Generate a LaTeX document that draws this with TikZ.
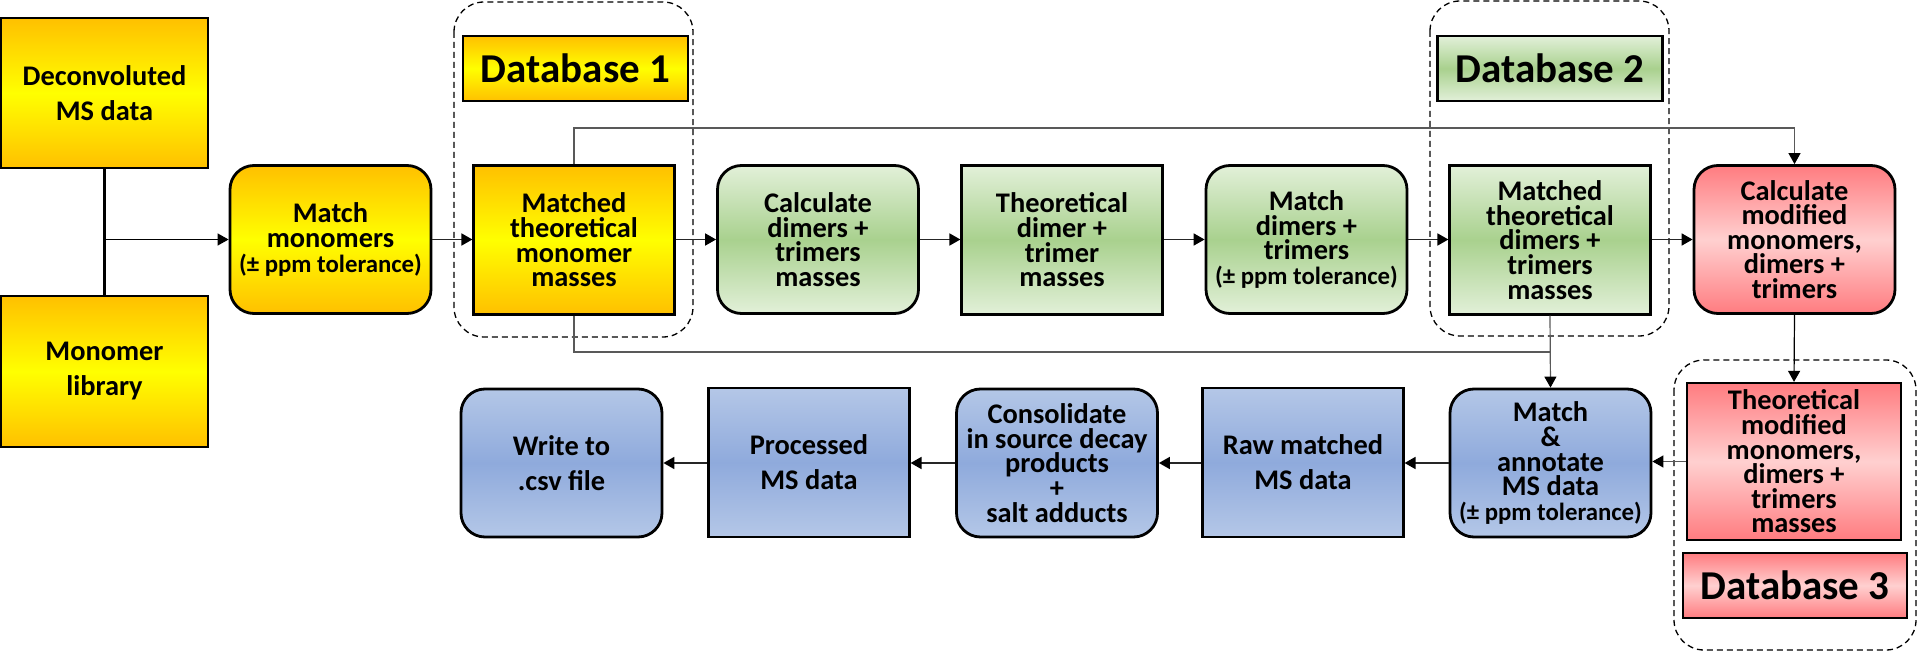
\documentclass[tikz,border=0pt]{standalone}
\usepackage{fontspec}
\setmainfont{Carlito}
\usetikzlibrary{arrows.meta}
\definecolor{yA}{HTML}{FFC000}
\definecolor{yB}{HTML}{FFFF00}
\definecolor{gA}{HTML}{E2F0D9}
\definecolor{gB}{HTML}{A9D18E}
\definecolor{rA}{HTML}{FF7C80}
\definecolor{rB}{HTML}{FFD0D0}
\definecolor{bA}{HTML}{B4C7E7}
\definecolor{bB}{HTML}{8FAADC}
\newcommand\boxfont{\fontsize{14.2pt}{12.3pt}\selectfont\bfseries\lineskiplimit=-20pt\relax}
\newcommand\twofont{\fontsize{14.2pt}{17.5pt}\selectfont\bfseries\lineskiplimit=-20pt\relax}
\newcommand\tolfont{\fontsize{12.4pt}{12.3pt}\selectfont\bfseries}
\newcommand\dbfont{\fontsize{20.5pt}{24pt}\selectfont\bfseries}
\tikzset{
  base/.style={draw=black, inner sep=0pt, align=center, font=\boxfont},
  sq/.style={base, line width=1.1pt, minimum width=100.5pt, minimum height=74.5pt},
  rd/.style={base, line width=1.4pt, rounded corners=12pt, minimum width=100.5pt, minimum height=74pt},
  yel/.style={top color=yA, bottom color=yA, middle color=yB},
  grn/.style={top color=gA, bottom color=gA, middle color=gB},
  red/.style={top color=rA, bottom color=rA, middle color=rB},
  blu/.style={top color=bA, bottom color=bA, middle color=bB},
  dbbox/.style={sq, minimum width=112.5pt, minimum height=32.5pt, font=\dbfont},
  dframe/.style={draw=black, line width=0.65pt, dash pattern=on 3pt off 2pt, rounded corners=15pt},
  arr/.style={draw=black!85, line width=0.9pt, -{Triangle[length=5.5pt,width=6pt,color=black]}},
  thinarr/.style={draw=black, line width=0.6pt, -{Triangle[length=5.5pt,width=6pt,color=black]}},
  gline/.style={draw=black!65, line width=0.6pt},
  garr/.style={gline, -{Triangle[length=5.5pt,width=6pt,color=black]}},
}
\begin{document}
\begin{tikzpicture}[x=0.5pt, y=-0.5pt]
\useasboundingbox (0,0) rectangle (1918,652);

% dashed database frames
\draw[dframe] (454,2) rectangle (693,337);
\draw[dframe] (1430,1) rectangle (1669,336);
\draw[dframe] (1674,360) rectangle (1916,650);

% left column
\node[sq, yel, minimum width=103.5pt, minimum height=75pt, font=\twofont] (decon) at (104.5,93) {Deconvoluted\\MS data};
\node[sq, yel, minimum width=103.5pt, minimum height=75.5pt, font=\twofont] (monolib) at (104.5,371.5) {Monomer\\library};

% database labels
\node[dbbox, yel] (db1) at (575.5,68.5) {Database 1};
\node[dbbox, grn] (db2) at (1550,68.5) {Database 2};
\node[dbbox, red, minimum width=112pt] (db3) at (1795,585.5) {Database 3};

% row 1
\node[rd, yel] (match1) at (330.5,239.5) {Match\\monomers\\{\tolfont(± ppm tolerance)}};
\node[sq, yel] (matched1) at (574,240) {Matched\\theoretical\\monomer\\masses};
\node[rd, grn] (calcdim) at (818,239.5) {Calculate\\dimers +\\trimers\\masses};
\node[sq, grn] (theodim) at (1062,240) {Theoretical\\dimer +\\trimer\\masses};
\node[rd, grn] (matchdim) at (1306.5,239.5) {Match\\dimers +\\trimers\\{\tolfont(± ppm tolerance)}};
\node[sq, grn] (matched2) at (1550,240) {Matched\\theoretical\\dimers +\\trimers\\masses};
\node[rd, red] (calcmod) at (1794.5,239.5) {Calculate\\modified\\monomers,\\dimers +\\trimers};

% database 3 content
\node[sq, red, minimum width=107pt, minimum height=78.5pt] (theomod) at (1794,461.5) {Theoretical\\modified\\monomers,\\dimers +\\trimers\\masses};

% row 2
\node[rd, blu] (annotate) at (1550.5,463) {Match\\\&\\annotate\\MS data\\{\tolfont(± ppm tolerance)}};
\node[sq, blu, font=\twofont] (raw) at (1303,462.5) {Raw matched\\MS data};
\node[rd, blu] (consol) at (1057,463) {Consolidate\\in source decay\\products\\+\\salt adducts};
\node[sq, blu, font=\twofont] (proc) at (809,462.5) {Processed\\MS data};
\node[rd, blu, font=\twofont] (write) at (561.5,463) {Write to\\.csv file};

% helper coordinates
\coordinate (join) at (104.5,239.5);
\coordinate (topy) at (0,128);
\coordinate (boty) at (0,352);

% connectors
\draw[draw=black, line width=1.2pt] (decon.south) -- (monolib.north);
\draw[thinarr] (join) -- (match1.west);
\draw[arr] (match1.east) -- (matched1.west |- match1.east);
\draw[arr] (matched1.east |- calcdim.west) -- (calcdim.west);
\draw[arr] (calcdim.east) -- (theodim.west |- calcdim.east);
\draw[arr] (theodim.east |- matchdim.west) -- (matchdim.west);
\draw[arr] (matchdim.east) -- (matched2.west |- matchdim.east);
\draw[arr] (matched2.east |- calcmod.west) -- (calcmod.west);

\draw[garr] (matched1.north) -- (matched1.north |- topy) -| (calcmod.north);
\draw[gline] (matched1.south) |- (annotate.north |- boty);
\draw[garr] (matched2.south) -- (annotate.north);
\draw[thinarr] (calcmod.south) -- (theomod.north);
\draw[garr] (theomod.west) -- (annotate.east |- theomod.west);

\draw[arr] (annotate.west) -- (raw.east |- annotate.west);
\draw[arr] (raw.west |- consol.east) -- (consol.east);
\draw[arr] (consol.west) -- (proc.east |- consol.west);
\draw[arr] (proc.west |- write.east) -- (write.east);
\end{tikzpicture}
\end{document}
